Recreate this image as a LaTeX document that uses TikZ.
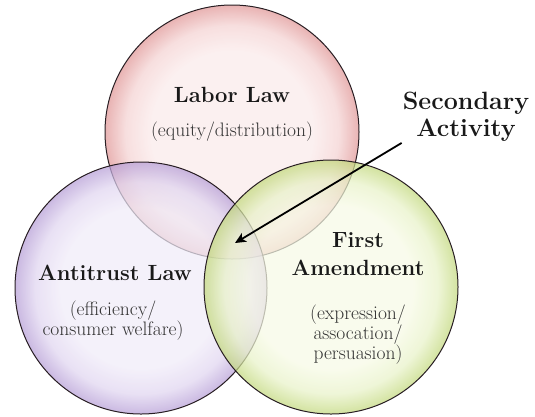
\documentclass[tikz,border=0pt]{standalone}
\usetikzlibrary{arrows.meta}
\definecolor{laborIn}{RGB}{250,234,234}
\definecolor{laborMid}{RGB}{244,210,210}
\definecolor{laborRim}{RGB}{224,150,150}
\definecolor{antiIn}{RGB}{240,235,248}
\definecolor{antiMid}{RGB}{224,213,240}
\definecolor{antiRim}{RGB}{182,158,214}
\definecolor{firstIn}{RGB}{247,250,230}
\definecolor{firstMid}{RGB}{232,242,200}
\definecolor{firstRim}{RGB}{194,216,124}
\definecolor{rimline}{RGB}{40,30,35}
\pgfdeclareradialshading{laborshade}{\pgfpoint{0bp}{0bp}}{color(0bp)=(laborIn); color(16bp)=(laborIn); color(21bp)=(laborMid); color(25bp)=(laborRim); color(50bp)=(laborRim)}
\pgfdeclareradialshading{antishade}{\pgfpoint{0bp}{0bp}}{color(0bp)=(antiIn); color(16bp)=(antiIn); color(21bp)=(antiMid); color(25bp)=(antiRim); color(50bp)=(antiRim)}
\pgfdeclareradialshading{firstshade}{\pgfpoint{0bp}{0bp}}{color(0bp)=(firstIn); color(16bp)=(firstIn); color(21bp)=(firstMid); color(25bp)=(firstRim); color(50bp)=(firstRim)}
\tikzset{
  venn/.style={circle, draw=rimline, line width=1pt, inner sep=0pt, outer sep=0pt, fill opacity=0.72, draw opacity=1},
  title/.style={font=\fontsize{22}{28}\selectfont\bfseries, align=center, text=black!90, inner sep=1pt},
  sub/.style={font=\fontsize{19.5}{20}\selectfont, align=center, text=black!80, inner sep=1pt},
  pointer/.style={-{Stealth[length=11pt,width=10pt,inset=3pt]}, line width=1.8pt, black}
}
\begin{document}
\begin{tikzpicture}[x=1pt,y=-1pt]
\useasboundingbox (0,0) rectangle (535,416);
\node[venn, shading=laborshade, minimum size=254pt] (labor) at (232,132) {};
\node[venn, shading=antishade, minimum size=252pt] (anti) at (141,288) {};
\node[venn, shading=firstshade, minimum size=254pt] (first) at (331,287) {};
\node[title] (labort) at (232,95) {Labor Law};
\node[sub] (labors) at (232,132) {(equity/distribution)};
\node[title] (antit) at (115,273) {Antitrust Law};
\node[sub] (antis) at (113,321) {(efficiency/\\consumer welfare)};
\node[title] (firstt) at (358,254) {First\\Amendment};
\node[sub] (firsts) at (358,335) {(expression/\\assocation/\\persuasion)};
\node[title, font=\fontsize{25}{27}\selectfont\bfseries] (sec) at (466,117) {Secondary\\Activity};
\coordinate (tip) at (235,243);
\draw[pointer] (sec.south west) -- (tip);
\end{tikzpicture}
\end{document}
